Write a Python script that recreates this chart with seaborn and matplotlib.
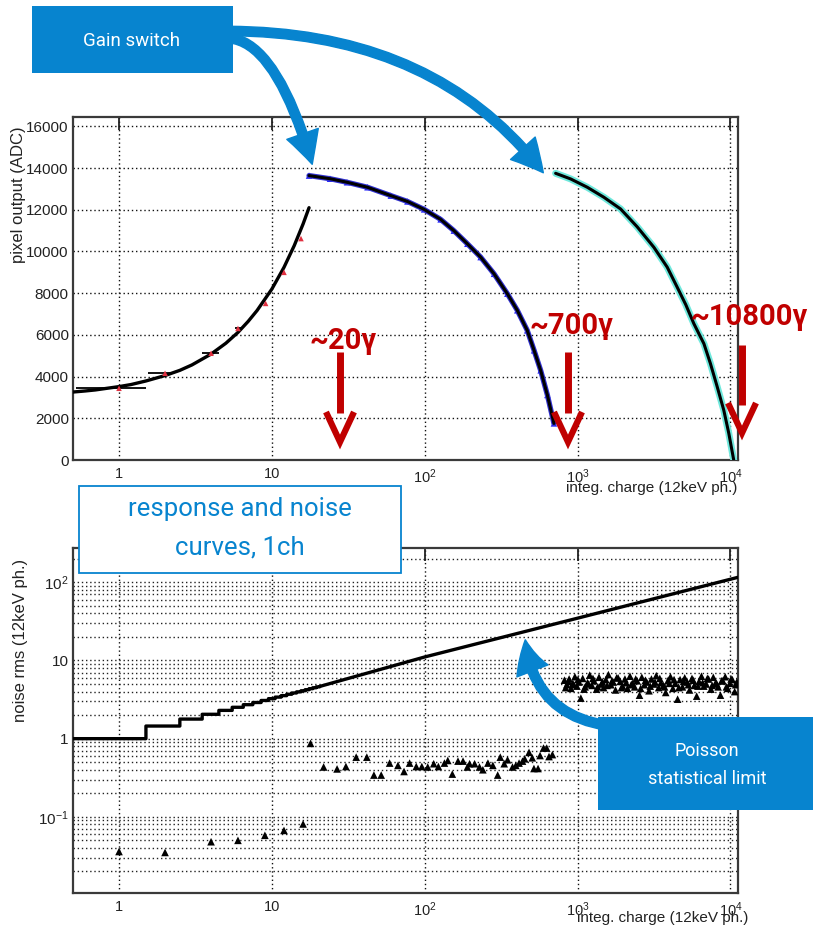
import numpy as np
import pandas as pd
import matplotlib
matplotlib.use("Agg")
import matplotlib.pyplot as plt
import seaborn as sns
from matplotlib.patches import FancyArrowPatch, Rectangle
from matplotlib.lines import Line2D
from matplotlib.ticker import FixedLocator, MultipleLocator, LogLocator, NullFormatter, FuncFormatter

# ---------------- data ----------------
# top panel: pixel response
low_gain_x = [1, 2, 4, 6, 9.1, 12, 15.5]
low_gain_y = [3440, 4160, 5120, 6310, 7510, 9000, 10620]
low_gain_xerr_lo = [0.48, 0.45, 0.5, 0.3, 0.0, 0.0, 0.0]
low_gain_xerr_hi = [0.5, 0.2, 0.5, 0.3, 0.0, 0.0, 0.0]
low_fit_x = [0.5, 0.6, 0.7, 0.8, 1, 1.2, 1.5, 2, 2.5, 3, 4, 5, 6, 7, 8, 10, 12, 14, 16, 17.5]
low_fit_y = [3260, 3310, 3360, 3420, 3520, 3620, 3790, 4050, 4300, 4560, 5080, 5600, 6120, 6650, 7170,
             8200, 9240, 10280, 11320, 12100]

mid_gain_x = [17.5, 24, 31, 42.2, 60, 77, 99, 127, 155, 190, 232, 284, 347, 403, 468, 519, 573, 634, 700]
mid_gain_y = [13640, 13490, 13320, 13080, 12680, 12400, 12020, 11540, 11000, 10370, 9730, 8930, 7975, 7180,
              6220, 5260, 4300, 3120, 1755]

high_gain_x = [718, 900, 1157, 1486, 1910, 2455, 3155, 3855, 4480, 5100, 5760, 6700, 7390, 8190, 9040, 9750,
               10500]
high_gain_y = [13750, 13480, 13080, 12600, 12040, 11180, 10200, 9250, 8290, 7450, 6540, 5580, 4630, 3510, 2390,
               1280, 0]

# bottom panel: noise
poisson_step_edges = [0.5, 1.5, 2.5, 3.5, 4.5, 5.5, 6.5, 7.5, 8.5, 9.5, 10.5, 11.5, 12.5, 13.5, 14.5,
                      15.5, 16.5, 17.5, 18.5, 19.5, 20.5]
poisson_step_vals = [1.0, 1.45, 1.78, 2.05, 2.3, 2.52, 2.72, 2.9, 3.08, 3.25, 3.4, 3.55, 3.7, 3.84, 3.97,
                     4.1, 4.23, 4.36, 4.48, 4.6]
poisson_line_x = [20.5, 100, 1000, 11200]
poisson_line_y = [4.65, 11.1, 34.8, 116]

noise_low_x = [1, 2, 4, 6, 9, 12, 16]
noise_low_y = [0.036, 0.035, 0.048, 0.050, 0.058, 0.067, 0.081]

noise_mid_x = [17.9, 21.8, 26.7, 30.5, 35.6, 41.8, 46.5, 51.9, 58.9, 66.8, 73.2, 79.6, 88, 95.7, 104.6,
               114.5, 122.8, 134.5, 141.5, 151.5, 165, 178, 190, 196.5, 212, 228, 240, 259, 279, 300,
               312, 331, 348, 375, 394, 414, 436, 451, 481, 505, 518, 551, 568, 598, 628, 650, 684]
noise_mid_y = [0.87, 0.434, 0.41, 0.44, 0.58, 0.58, 0.342, 0.342, 0.487, 0.455, 0.38, 0.487, 0.44, 0.44,
               0.434, 0.478, 0.44, 0.487, 0.526, 0.352, 0.516, 0.516, 0.434, 0.478, 0.478, 0.434, 0.40,
               0.487, 0.455, 0.342, 0.58, 0.478, 0.537, 0.434, 0.455, 0.487, 0.516, 0.552, 0.668, 0.569,
               0.415, 0.415, 0.608, 0.758, 0.758, 0.59, 0.625]

noise_high_x = [820, 850, 880, 905, 930, 960, 990, 1020, 1050, 1080, 1120, 1160, 1200, 1240, 1280,
                1330, 1380, 1430, 1480, 1530, 1590, 1650, 1710, 1770, 1840, 1900, 1970, 2040, 2120, 2200,
                2280, 2360, 2450, 2540, 2630, 2730, 2830, 2930, 3040, 3150, 3270, 3390, 3510, 3640, 3770,
                3910, 4050, 4200, 4350, 4510, 4680, 4850, 5020, 5210, 5400, 5600, 5800, 6010, 6230, 6460,
                6690, 6940, 7190, 7450, 7720, 8000, 8300, 8600, 8910, 9240, 9570, 9920, 10280, 10650, 11000]
noise_high_y = [5.6, 4.9, 5.8, 4.4, 5.1, 6.2, 4.7, 5.3, 3.3, 5.9, 4.6, 5.2, 6.5, 4.8, 5.5,
                4.3, 6.1, 5.0, 4.5, 5.7, 6.6, 4.9, 5.3, 4.2, 6.0, 5.4, 4.7, 5.8, 4.4, 6.3,
                5.1, 4.6, 5.5, 3.6, 6.1, 4.9, 5.3, 4.1, 5.8, 5.0, 6.4, 4.5, 5.2, 4.8, 3.9,
                5.6, 6.2, 4.4, 5.1, 3.2, 5.7, 4.6, 6.0, 5.3, 4.2, 5.9, 4.8, 3.5, 5.4, 6.3,
                4.7, 5.0, 5.8, 4.3, 6.1, 5.2, 4.6, 3.6, 5.5, 6.2, 4.4, 5.1, 5.7, 4.0, 5.3]
noise_high_x2 = [835, 870, 945, 1005, 1100, 1180, 1260, 1355, 1455, 1560, 1680, 1800, 1935, 2080, 2240,
                 2400, 2585, 2780, 2985, 3210, 3450, 3705, 3980, 4275, 4595, 4935, 5300, 5700, 6120, 6575,
                 7060, 7585, 8150, 8750, 9400, 10100, 10820]
noise_high_y2 = [4.5, 5.4, 4.9, 5.7, 4.3, 5.0, 5.9, 4.6, 5.3, 4.8, 5.5, 6.0, 4.5, 5.2, 4.9,
                 5.8, 4.4, 5.6, 4.7, 5.3, 5.9, 4.6, 5.1, 5.7, 4.5, 5.4, 4.9, 5.6, 4.7, 5.2,
                 5.9, 4.8, 5.0, 5.5, 4.6, 5.8, 4.9]

x_tick_vals = [1, 10, 100, 1000, 10000]
x_tick_text = ["1", "10", r"$\mathregular{10^{2}}$", r"$\mathregular{10^{3}}$", r"$\mathregular{10^{4}}$"]
y2_tick_vals = [0.1, 1, 10, 100]
y2_tick_text = [r"$\mathregular{10^{-1}}$", "1", "10", r"$\mathregular{10^{2}}$"]

# ---------------- style ----------------
sns.set_theme(style="white")
plt.rcParams["font.family"] = ["Liberation Sans", "DejaVu Sans"]
plt.rcParams["mathtext.fontset"] = "custom"
plt.rcParams["mathtext.rm"] = "Liberation Sans"
plt.rcParams["mathtext.it"] = "Liberation Sans:italic"
plt.rcParams["mathtext.bf"] = "Liberation Sans:bold"

W, H = 813, 930
fig = plt.figure(figsize=(W / 100, H / 100), dpi=100)
fig.patch.set_facecolor("white")


def FX(px):
    return px / W


def FY(py):
    return 1 - py / H


ax1 = fig.add_axes([FX(73), FY(460), FX(738) - FX(73), FY(117) - FY(460)])
ax2 = fig.add_axes([FX(73), FY(893), FX(738) - FX(73), FY(548) - FY(893)])

grid_ls = (0, (1.0, 2.0))
for ax in (ax1, ax2):
    ax.set_xscale("log")
    ax.set_xlim(0.5, 11200)
    for s in ax.spines.values():
        s.set_color("#3a3a3a")
        s.set_linewidth(1.6)

ax2.set_yscale("log")
ax1.set_ylim(0, 16450)
ax2.set_ylim(0.0106, 275)

# ---------------- top panel ----------------
ax1.errorbar(low_gain_x, low_gain_y, xerr=[low_gain_xerr_lo, low_gain_xerr_hi], fmt="none",
             ecolor="black", elinewidth=1.3, zorder=3)
sns.lineplot(x=low_fit_x, y=low_fit_y, ax=ax1, color="black", lw=2.4, sort=False, estimator=None, zorder=4)
sns.scatterplot(x=low_gain_x, y=low_gain_y, ax=ax1, marker="^", color="#e03040", s=16,
                edgecolor="none", zorder=5)

sns.scatterplot(x=mid_gain_x, y=mid_gain_y, ax=ax1, marker="^", color="#2020ff", s=22,
                edgecolor="none", zorder=3)
sns.lineplot(x=mid_gain_x, y=mid_gain_y, ax=ax1, color="#3030d0", lw=3.8, sort=False, estimator=None, zorder=3)
sns.lineplot(x=mid_gain_x, y=mid_gain_y, ax=ax1, color="black", lw=2.2, sort=False, estimator=None, zorder=4)

sns.lineplot(x=high_gain_x, y=high_gain_y, ax=ax1, color="#6fe8dc", lw=5.0, sort=False, estimator=None, zorder=3)
sns.lineplot(x=high_gain_x, y=high_gain_y, ax=ax1, color="black", lw=2.2, sort=False, estimator=None, zorder=4)

ax1.yaxis.set_major_locator(MultipleLocator(2000))
ax1.yaxis.set_minor_locator(MultipleLocator(500))
ax1.yaxis.set_major_formatter(FuncFormatter(lambda v, p: f"{int(v)}"))

# ---------------- bottom panel ----------------
step_x = []
step_y = []
for i, v in enumerate(poisson_step_vals):
    step_x += [poisson_step_edges[i], poisson_step_edges[i + 1]]
    step_y += [v, v]
step_x += poisson_line_x
step_y += poisson_line_y
sns.lineplot(x=step_x, y=step_y, ax=ax2, color="black", lw=2.4, sort=False, estimator=None, zorder=4)

for xs, ys in ((noise_low_x, noise_low_y), (noise_mid_x, noise_mid_y), (noise_high_x, noise_high_y),
               (noise_high_x2, noise_high_y2)):
    sns.scatterplot(x=xs, y=ys, ax=ax2, marker="^", color="black", s=30, edgecolor="none", zorder=5)

ax2.yaxis.set_major_locator(FixedLocator(y2_tick_vals))
ax2.yaxis.set_major_formatter(FuncFormatter(lambda v, p: dict(zip(y2_tick_vals, y2_tick_text)).get(v, "")))
ax2.yaxis.set_minor_locator(LogLocator(base=10, subs=np.arange(2, 10), numticks=20))
ax2.yaxis.set_minor_formatter(NullFormatter())

# ---------------- shared axis styling ----------------
for ax in (ax1, ax2):
    ax.xaxis.set_major_locator(FixedLocator(x_tick_vals))
    ax.xaxis.set_major_formatter(FuncFormatter(lambda v, p: dict(zip(x_tick_vals, x_tick_text)).get(v, "")))
    ax.xaxis.set_minor_locator(LogLocator(base=10, subs=np.arange(2, 10), numticks=20))
    ax.xaxis.set_minor_formatter(NullFormatter())
    ax.tick_params(axis="both", which="both", direction="in", colors="#222222", top=False, right=False)
    ax.tick_params(axis="x", which="major", length=9, width=1.3, top=True, labelsize=10.5, pad=5)
    ax.tick_params(axis="x", which="minor", length=5, width=1.2)
    ax.tick_params(axis="y", which="major", length=11, width=1.3, labelsize=11, pad=3)
    ax.tick_params(axis="y", which="minor", length=6, width=1.2)
    ax.set_xlabel("")
    ax.set_ylabel("")
    ax.grid(True, which="major", axis="x", color="#111111", ls=grid_ls, lw=1.0)

ax1.grid(True, which="major", axis="y", color="#111111", ls=grid_ls, lw=1.0)
ax2.grid(True, which="both", axis="y", color="#222222", ls=grid_ls, lw=1.0)
for ax in (ax1, ax2):
    ax.set_axisbelow(True)

# axis titles (ROOT style)
fig.text(FX(19), FY(195), "pixel output (ADC)", rotation=90, ha="center", va="center", fontsize=12,
         color="#222222")
fig.text(FX(20), FY(640), "noise rms (12keV ph.)", rotation=90, ha="center", va="center", fontsize=12,
         color="#222222")
fig.text(FX(737), FY(488), "integ. charge (12keV ph.)", ha="right", va="center", fontsize=11, color="#222222")
fig.text(FX(748), FY(918), "integ. charge (12keV ph.)", ha="right", va="center", fontsize=11, color="#222222")

# ---------------- annotations ----------------
BLUE = "#0784CF"
RED = "#C00000"
cond = ["Roboto", "DejaVu Sans"]

# Gain switch box
fig.add_artist(Rectangle((FX(32), FY(73)), FX(233) - FX(32), FY(6) - FY(73), transform=fig.transFigure,
                         facecolor=BLUE, edgecolor="none", zorder=10))
fig.text(FX(132), FY(41), "Gain switch", ha="center", va="center", fontsize=13.5, color="white",
         family=cond, fontweight="normal", zorder=11)

arrow_kw = dict(transform=fig.transFigure, color=BLUE, zorder=9,
                arrowstyle="simple,head_length=1.15,head_width=1.2,tail_width=0.34", mutation_scale=20)
fig.add_artist(FancyArrowPatch((FX(226), FY(38)), (FX(313), FY(167)),
                               connectionstyle="angle3,angleA=0,angleB=-74", **arrow_kw))
fig.add_artist(FancyArrowPatch((FX(226), FY(31)), (FX(545), FY(175)),
                               connectionstyle="angle3,angleA=0,angleB=-53", **arrow_kw))

# response box
fig.add_artist(Rectangle((FX(79), FY(573)), FX(401) - FX(79), FY(486) - FY(573), transform=fig.transFigure,
                         facecolor="white", edgecolor=BLUE, lw=1.3, zorder=10))
fig.text(FX(240), FY(509), "response and noise", ha="center", va="center", fontsize=18.5, color=BLUE,
         family=cond, fontweight="normal", zorder=11)
fig.text(FX(240), FY(547), "curves, 1ch", ha="center", va="center", fontsize=18.5, color=BLUE,
         family=cond, fontweight="normal", zorder=11)

# Poisson box
fig.add_artist(Rectangle((FX(598), FY(810)), FX(813) - FX(598), FY(717) - FY(810), transform=fig.transFigure,
                         facecolor=BLUE, edgecolor="none", zorder=10))
fig.text(FX(707), FY(751), "Poisson", ha="center", va="center", fontsize=13, color="white",
         family=cond, fontweight="normal", zorder=11)
fig.text(FX(707), FY(779), "statistical limit", ha="center", va="center", fontsize=13, color="white",
         family=cond, fontweight="normal", zorder=11)
fig.add_artist(FancyArrowPatch((FX(610), FY(726)), (FX(525), FY(637)), connectionstyle="arc3,rad=-0.4",
                               **arrow_kw))

# red markers of the switching points
red_labels = [("~20γ", 343, 341, 340, 352, 413, 442),
              ("~700γ", 571, 326, 568, 352, 413, 442),
              ("~10800γ", 749, 317, 742, 345, 405, 433)]
for txt, tx, ty, ax_x, y0, y1, ytip in red_labels:
    fig.text(FX(tx), FY(ty), txt, ha="center", va="center", fontsize=21, fontweight="bold", color=RED,
             family=cond, zorder=11)
    fig.add_artist(Line2D([FX(ax_x), FX(ax_x)], [FY(y0), FY(y1)], transform=fig.transFigure, color=RED,
                          lw=5, solid_capstyle="butt", zorder=11))
    fig.add_artist(Line2D([FX(ax_x - 14), FX(ax_x), FX(ax_x + 14)], [FY(ytip - 30), FY(ytip), FY(ytip - 30)],
                          transform=fig.transFigure, color=RED, lw=4.5, solid_joinstyle="miter",
                          solid_capstyle="butt", zorder=11))

fig.savefig("out.png", dpi=100, facecolor="white")
